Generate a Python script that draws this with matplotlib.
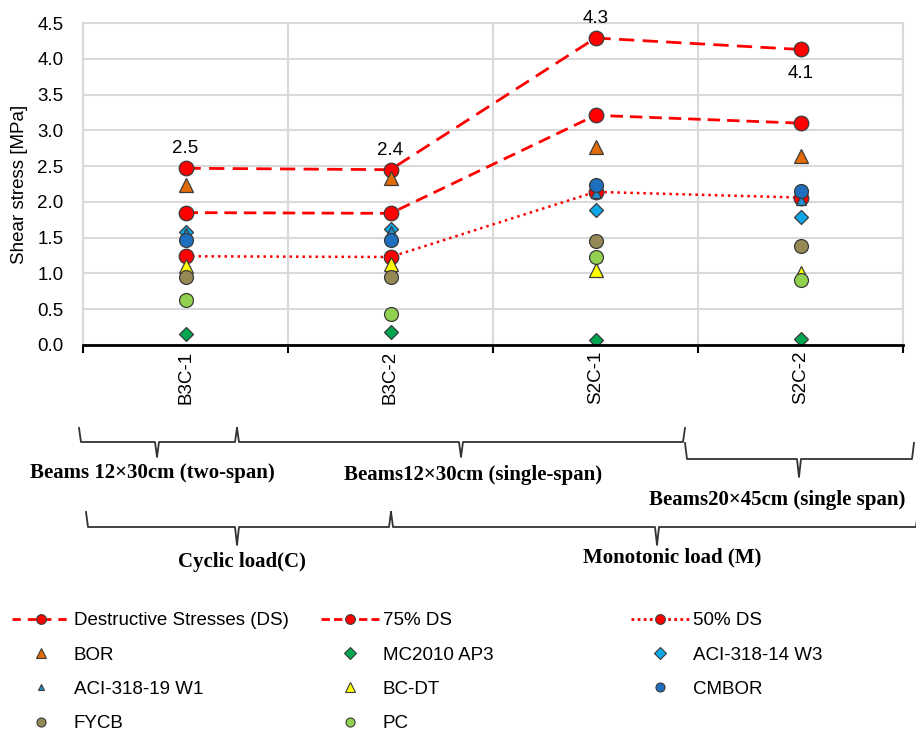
import numpy as np
import matplotlib
matplotlib.use('Agg')
import matplotlib.pyplot as plt
from matplotlib.lines import Line2D

plt.rcParams['font.family'] = ['Liberation Sans', 'DejaVu Sans']

# Data
categories = ['B3C-1', 'B3C-2', 'S2C-1', 'S2C-2']
ds = [2.47, 2.45, 4.29, 4.13]
ds75 = [1.85, 1.84, 3.21, 3.10]
ds50 = [1.24, 1.23, 2.14, 2.06]
ds_labels = ['2.5', '2.4', '4.3', '4.1']
bor = [2.24, 2.33, 2.77, 2.64]
mc2010 = [0.16, 0.18, 0.07, 0.09]
aci14 = [1.58, 1.62, 1.88, 1.79]
aci19 = [1.57, 1.60, 2.13, 2.03]
bcdt = [1.10, 1.13, 1.05, 1.00]
cmbor = [1.47, 1.47, 2.24, 2.15]
fycb = [0.95, 0.95, 1.45, 1.39]
pc = [0.63, 0.44, 1.23, 0.91]

groups_size = ['Beams 12\u00d730cm (two-span)', 'Beams12\u00d730cm (single-span)',
               'Beams20\u00d745cm (single span)']
groups_load = ['Cyclic load(C)', 'Monotonic load (M)']

W, H = 916, 731
fig = plt.figure(figsize=(W / 100, H / 100), dpi=100)
ax = fig.add_axes([83 / W, 1 - 345 / H, 820 / W, 322 / H])

x = np.arange(len(categories))
edge = '#3a3a3a'
fs = 13.5

# lines
ax.plot(x, ds, color='red', lw=2.0, dashes=(5.5, 3), marker='o', ms=10.5,
        mfc='red', mec=edge, mew=0.9, zorder=3)
ax.plot(x, ds75, color='red', lw=2.0, dashes=(4.5, 2.5), marker='o', ms=10.5,
        mfc='red', mec=edge, mew=0.9, zorder=3)
ax.plot(x, ds50, color='red', lw=1.8, dashes=(1, 1.6), marker='o', ms=10.5,
        mfc='red', mec=edge, mew=0.9, zorder=3)

# markers only
pts = [
    (bor, '^', '#E36C09', 9.5),
    (mc2010, 'D', '#00A650', 7.5),
    (aci14, 'D', '#0FA8E6', 7.5),
    (aci19, '^', '#1E8FD0', 6.5),
    (bcdt, '^', '#FFFF00', 9.5),
    (cmbor, 'o', '#1F6FBF', 10),
    (fycb, 'o', '#958A55', 10),
    (pc, 'o', '#92D050', 10),
]
for vals, mk, col, ms in pts:
    ax.plot(x, vals, ls='none', marker=mk, ms=ms, mfc=col, mec=edge, mew=0.9, zorder=4)

# data labels
for i, (v, t) in enumerate(zip(ds, ds_labels)):
    if i == 3:
        ax.annotate(t, (i, v), xytext=(0, -11), textcoords='offset points',
                    ha='center', va='top', fontsize=fs)
    else:
        ax.annotate(t, (i, v), xytext=(0, 8), textcoords='offset points',
                    ha='center', va='bottom', fontsize=fs)

ax.set_xlim(-0.5, 3.5)
ax.set_ylim(0, 4.5)
ax.set_yticks(np.arange(0, 4.51, 0.5))
ax.set_yticklabels([f'{v:.1f}' for v in np.arange(0, 4.51, 0.5)], fontsize=fs)
ax.set_xticks(x)
ax.set_xticklabels(categories, rotation=90, fontsize=fs)
ax.set_xticks(np.arange(-0.5, 3.6, 1), minor=True)
ax.tick_params(axis='y', length=0, pad=14)
ax.tick_params(axis='x', which='major', length=0, pad=4)
ax.tick_params(axis='x', which='minor', length=6, width=1.5, color='black', direction='out')
ax.grid(True, axis='y', color='#D9D9D9', lw=1.5)
ax.grid(True, axis='x', which='minor', color='#D9D9D9', lw=1.5)
ax.set_axisbelow(True)
for s in ['left', 'top', 'right']:
    ax.spines[s].set_color('#D9D9D9')
    ax.spines[s].set_linewidth(1.5)
ax.spines['bottom'].set_color('black')
ax.spines['bottom'].set_linewidth(2)
ax.spines['bottom'].set_zorder(5)

fig.text(20 / W, 1 - 184 / H, 'Shear stress [MPa]', rotation=90, ha='center',
         va='center', fontsize=fs)


# brackets below the axis
def brace(x0, x1, xc, ytop, yline, ybot):
    xs = [x0, x0 + 2, xc - 2, xc, xc + 2, x1 - 2, x1]
    ys = [ytop, yline, yline, ybot, yline, yline, ytop]
    fig.add_artist(Line2D(np.array(xs) / W, 1 - np.array(ys) / H,
                          transform=fig.transFigure, color='#333333', lw=1.3))


serif = {'family': ['Liberation Serif', 'DejaVu Serif'], 'weight': 'bold', 'size': 15}
brace(79, 237, 157, 428, 442, 457)
brace(237, 685, 461, 428, 442, 457)
brace(685, 914, 799, 443, 459, 477)
fig.text(152 / W, 1 - 473 / H, groups_size[0], ha='center', va='center', fontdict=serif)
fig.text(473 / W, 1 - 475 / H, groups_size[1], ha='center', va='center', fontdict=serif)
fig.text(777 / W, 1 - 500 / H, groups_size[2], ha='center', va='center', fontdict=serif)

brace(86, 391, 237, 512, 527, 545)
brace(391, 918, 657, 512, 527, 545)
fig.text(242 / W, 1 - 562 / H, groups_load[0], ha='center', va='center', fontdict=serif)
fig.text(672 / W, 1 - 557 / H, groups_load[1], ha='center', va='center', fontdict=serif)

# legend, three columns placed by hand
def h_line(ls):
    return Line2D([], [], color='red', lw=2, dashes=ls, marker='o', ms=7,
                  mfc='red', mec=edge, mew=0.8)


def h_mk(mk, col, ms):
    return Line2D([], [], ls='none', marker=mk, ms=ms, mfc=col, mec=edge, mew=0.8)


cols = [
    ([h_line((3, 2.5)), h_mk('^', '#E36C09', 7), h_mk('^', '#1E8FD0', 5), h_mk('o', '#958A55', 6.5)],
     ['Destructive Stresses (DS)', 'BOR', 'ACI-318-19 W1', 'FYCB'], 12),
    ([h_line((3, 1.5)), h_mk('D', '#00A650', 6), h_mk('^', '#FFFF00', 7), h_mk('o', '#92D050', 6.5)],
     ['75% DS', 'MC2010 AP3', 'BC-DT', 'PC'], 321),
    ([h_line((1, 1.2)), h_mk('D', '#0FA8E6', 6), h_mk('o', '#1F6FBF', 6.5)],
     ['50% DS', 'ACI-318-14 W3', 'CMBOR'], 631),
]
for hs, ls, x0 in cols:
    leg = fig.legend(hs, ls, loc='upper left', bbox_to_anchor=(x0 / W, 1 - 612 / H),
                     frameon=False, fontsize=fs, handlelength=3.1, handletextpad=0.2,
                     labelspacing=0.92, borderpad=0, borderaxespad=0)

fig.savefig('out.png', dpi=100)
